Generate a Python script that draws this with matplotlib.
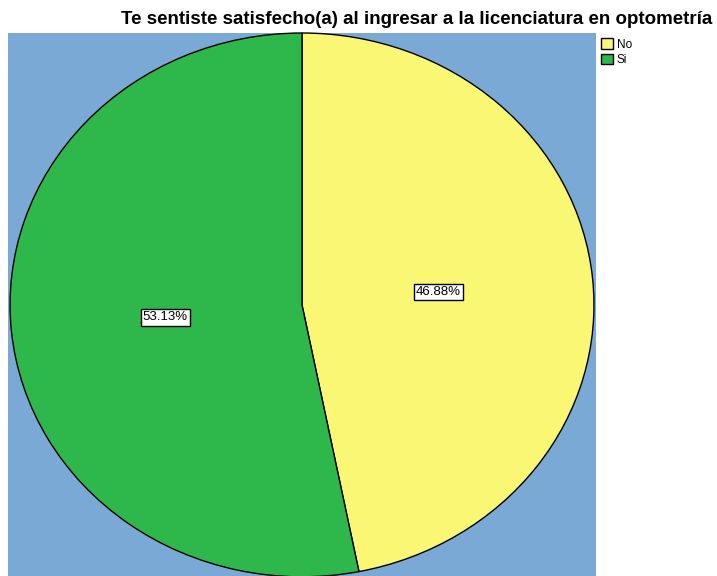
import matplotlib.pyplot as plt
from matplotlib.patches import Patch

categorias = ['No', 'Si']
porcentajes = [46.88, 53.13]
etiquetas = ['46.88%', '53.13%']
colores = ['#FAF774', '#2EB84B']
fondo = '#7BA9D6'

plt.rcParams['font.family'] = ['Liberation Sans', 'DejaVu Sans']

fig = plt.figure(figsize=(7.17, 5.76), dpi=100)
ax = fig.add_axes([8 / 717, 0, 588 / 717, 543 / 576])

wedges, textos, autotextos = ax.pie(
    porcentajes, colors=colores, startangle=90, counterclock=False,
    autopct='%1.2f%%', pctdistance=0.47, frame=True,
    wedgeprops=dict(edgecolor='black', linewidth=1),
    textprops=dict(fontsize=9.5))
for t, e in zip(autotextos, etiquetas):
    t.set_text(e)
    t.set_bbox(dict(facecolor='white', edgecolor='black', pad=1.5, linewidth=1))

ax.set_facecolor(fondo)
ax.set_aspect('auto')
ax.set_xlim(-1.007, 1.007)
ax.set_ylim(-0.997, 1.0)
ax.set_xticks([])
ax.set_yticks([])
for s in ax.spines.values():
    s.set_visible(False)

fig.text(712 / 717, 1 - 20 / 576, 'Te sentiste satisfecho(a) al ingresar a la licenciatura en optometría',
         ha='right', va='center', fontsize=13.5, fontweight='bold')

handles = [Patch(facecolor=c, edgecolor='black', label=l) for c, l in zip(colores, categorias)]
fig.legend(handles=handles, loc='upper left', bbox_to_anchor=(593 / 717, 1 - 30 / 576),
           frameon=False, fontsize=8.5, handlelength=1.0, handleheight=1.0,
           handletextpad=0.3, labelspacing=0.25, borderpad=0.2)

fig.savefig('out.png', dpi=100)
